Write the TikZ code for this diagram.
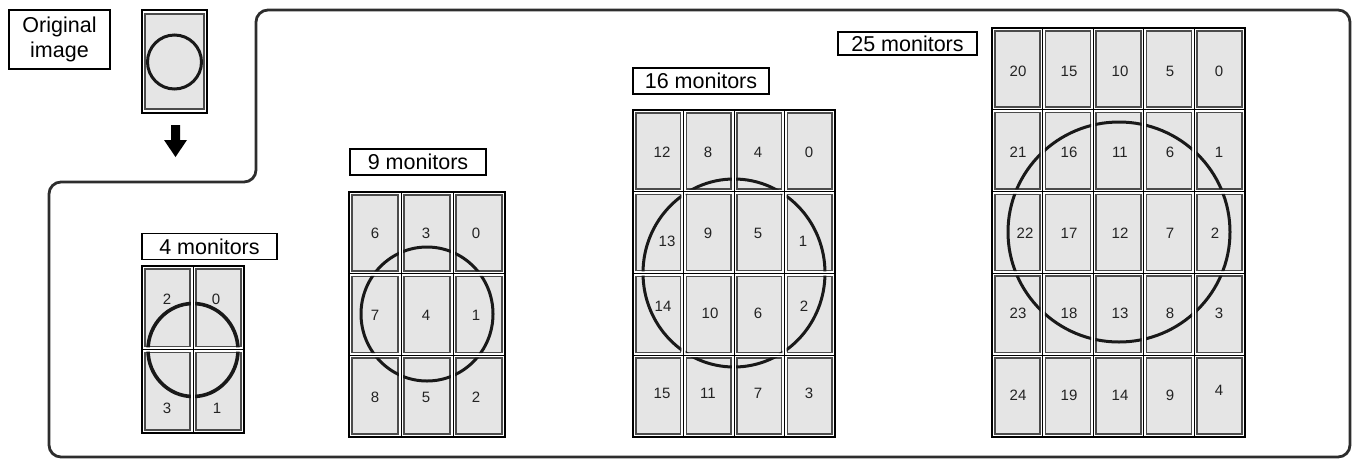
\documentclass[tikz,border=0pt]{standalone}
\usepackage{fontspec}
\setmainfont{Liberation Sans}
\definecolor{tilefill}{RGB}{229,229,229}
\definecolor{tileline}{RGB}{75,75,75}
\definecolor{outline}{RGB}{45,45,45}
\definecolor{numcol}{RGB}{35,35,35}
\definecolor{ringcol}{RGB}{25,25,25}
\newcommand\tgap{2.8}
\newcommand\mongrid[9]{%
  \pgfmathsetmacro\cw{(#3-#1)/#5}%
  \pgfmathsetmacro\chh{(#4-#2)/#5}%
  \foreach \i in {1,...,#5}{\foreach \j in {1,...,#5}{%
    \path[tile] ({#1+(\i-1)*\cw+\tgap},{#2+(\j-1)*\chh+\tgap}) rectangle ({#1+\i*\cw-\tgap},{#2+\j*\chh-\tgap});
  }}%
  \begin{scope}
    \clip \foreach \i in {1,...,#5}{\foreach \j in {1,...,#5}{ ({#1+(\i-1)*\cw+\tgap-0.6},{#2+(\j-1)*\chh+\tgap-0.6}) rectangle ({#1+\i*\cw-\tgap+0.6},{#2+\j*\chh-\tgap+0.6}) }};
    \draw[ring] (#6,#7) ellipse [x radius=#8, y radius=#9];
  \end{scope}
  \pgfmathtruncatemacro\nm{#5-1}%
  \foreach \k in {1,...,\nm}{%
    \draw[gridline] ({#1+\k*\cw},#2) -- ({#1+\k*\cw},#4);
    \draw[gridline] (#1,{#2+\k*\chh}) -- (#3,{#2+\k*\chh});
  }%
  \draw[frame] (#1,#2) rectangle (#3,#4);
}
\begin{document}
\begin{tikzpicture}[x=1pt,y=-1pt,
  tile/.style={fill=tilefill,draw=tileline,line width=1.5pt},
  ring/.style={draw=ringcol,line width=3pt},
  gridline/.style={draw=black,line width=1pt},
  frame/.style={draw=black,line width=2.2pt},
  num/.style={text=numcol,font=\fontsize{15}{18}\selectfont,inner sep=0pt},
  lbl/.style={draw=black,line width=1.4pt,fill=white,inner sep=0pt,font=\fontsize{21.5}{25}\selectfont,text=black},
  bigoutline/.style={draw=outline,line width=2.8pt,rounded corners=12pt}]
\useasboundingbox (0,0) rectangle (1354,459);
% big rounded outline
\draw[bigoutline] (256,10) -- (1350,10) -- (1350,457) -- (49,457) -- (49,182) -- (256,182) -- cycle;
% original image
\node[lbl,minimum width=101pt,minimum height=59pt,align=center] (orig) at (59.5,39.5) {Original\\image};
\draw[frame] (142,10) rectangle (207,113);
\path[tile] (145,14) rectangle (204,109);
\draw[ring,line width=3pt] (174.5,62) circle [radius=27];
\fill[black] (171,125) -- (180,125) -- (180,140) -- (187,140) -- (175.5,157) -- (164,140) -- (171,140) -- cycle;
% labels
\node[lbl,minimum width=135pt,minimum height=26pt] (l4) at (209.5,246.5) {4 monitors};
\node[lbl,minimum width=136pt,minimum height=26pt] (l9) at (418,162) {9 monitors};
\node[lbl,minimum width=136pt,minimum height=26pt] (l16) at (701,81) {16 monitors};
\node[lbl,minimum width=139pt,minimum height=23pt] (l25) at (907.5,43.5) {25 monitors};
% grids
\begin{scope}[ring/.append style={line width=3.6pt}]
\mongrid{142}{266}{244}{433}{2}{193}{350}{45}{46.5}
\end{scope}
\mongrid{349}{192}{505}{437}{3}{427}{314}{66}{67}
\mongrid{633}{110}{835}{437}{4}{734}{273}{91}{94}
\mongrid{992}{28}{1245}{437}{5}{1119}{232}{111}{110}
% numbers 4
\foreach \t/\x/\y in {2/167/299,0/216/299,3/167/408,1/217/408}
  \node[num] (a\t) at (\x,\y) {\t};
% numbers 9
\foreach \t/\x/\y in {6/375/233,3/426/233,0/476/233,7/375/315,4/426/315,1/476/315,8/375/397,5/426/397,2/476/397}
  \node[num] (b\t) at (\x,\y) {\t};
% numbers 16
\foreach \t/\x/\y in {12/662/152,8/708/152,4/758/152,0/809/152,
  13/667/241,9/708/233,5/758/233,1/803/241,
  14/663/306,10/710/313,6/758/313,2/804/306,
  15/662/393,11/708/393,7/758/393,3/809/393}
  \node[num] (c\t) at (\x,\y) {\t};
% numbers 25
\foreach \t/\x/\y in {20/1018/71,15/1069/71,10/1120/71,5/1170/71,0/1219/71,
  21/1018/152,16/1069/152,11/1120/152,6/1170/152,1/1219/152,
  22/1025/233,17/1069/233,12/1120/233,7/1170/233,2/1215/233,
  23/1018/313,18/1069/313,13/1120/313,8/1170/313,3/1219/313,
  24/1018/395,19/1069/395,14/1120/395,9/1170/395,4/1219/390}
  \node[num] (d\t) at (\x,\y) {\t};
\end{tikzpicture}
\end{document}
